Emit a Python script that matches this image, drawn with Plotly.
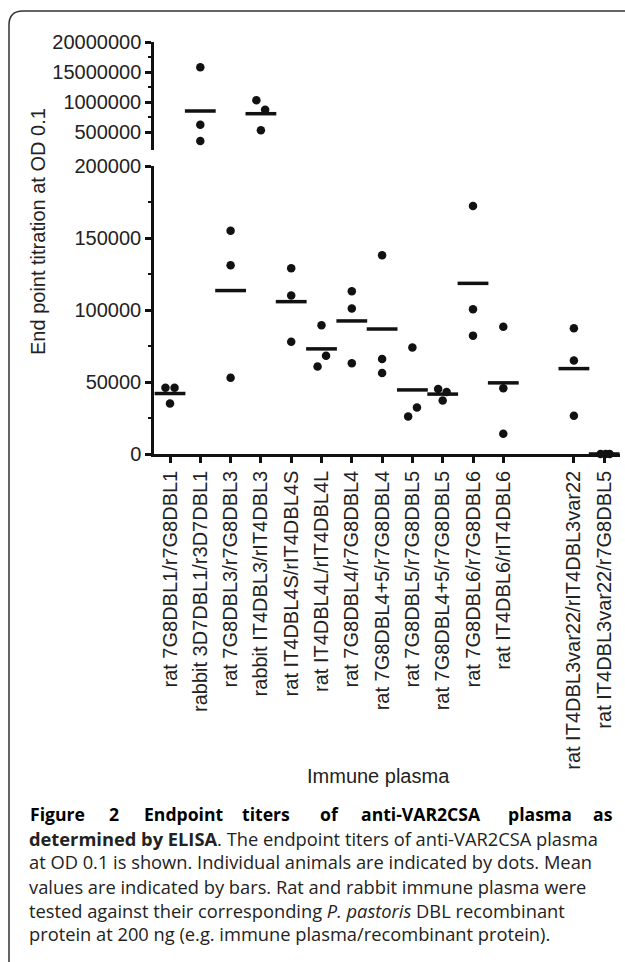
import plotly.graph_objects as go

# ---------------- data ----------------
categories = [
    "rat 7G8DBL1/r7G8DBL1",
    "rabbit 3D7DBL1/r3D7DBL1",
    "rat 7G8DBL3/r7G8DBL3",
    "rabbit IT4DBL3/rIT4DBL3",
    "rat IT4DBL4S/rIT4DBL4S",
    "rat IT4DBL4L/rIT4DBL4L",
    "rat 7G8DBL4/r7G8DBL4",
    "rat 7G8DBL4+5/r7G8DBL4",
    "rat 7G8DBL5/r7G8DBL5",
    "rat 7G8DBL4+5/r7G8DBL5",
    "rat 7G8DBL6/r7G8DBL6",
    "rat IT4DBL6/rIT4DBL6",
    "rat IT4DBL3var22/rIT4DBL3var22",
    "rat IT4DBL3var22/r7G8DBL5",
]
animal_values = [
    [46000, 46000, 35000],
    [1580000, 620000, 350000],
    [155000, 131000, 53000],
    [1030000, 870000, 530000],
    [129000, 110000, 78000],
    [89400, 68300, 60700],
    [113000, 101000, 63000],
    [138000, 66000, 56300],
    [74000, 32300, 26000],
    [45200, 43000, 37200],
    [172300, 100500, 82200],
    [88400, 45700, 14000],
    [87300, 64900, 26500],
    [0, 0, 0],
]
mean_values = [42000, 850000, 113500, 805000, 105800, 73000, 92400,
               86800, 44500, 41600, 118500, 49400, 59300, 0]
# horizontal spread of overlapping dots (category units)
jitter = [
    [-0.15, 0.15, 0], [0, 0, 0], [0, 0, 0], [-0.15, 0.14, 0],
    [0, 0, 0], [0, 0.15, -0.13], [0, 0, 0], [0, 0, 0],
    [0, 0.15, -0.14], [-0.15, 0.13, 0], [0, 0, 0], [0, 0, 0],
    [0, 0, 0], [-0.12, 0.05, 0.18],
]
lower_ticks = [0, 50000, 100000, 150000, 200000]
lower_minor = [25000, 75000, 125000, 175000]
upper_ticks = [500000, 1000000, 1500000, 2000000]
upper_ticktext = ["500000", "1000000", "15000000", "20000000"]
upper_minor = [750000, 1250000, 1750000]
BREAK = 200000
GROUP_GAP = 1.33  # extra space before last group

# ---------------- layout helpers ----------------
W, H = 625, 962
def px(x):
    return x / W
def py(y):
    return 1 - y / H

xpos = [i if i < 12 else i + GROUP_GAP for i in range(len(categories))]

BLACK = "#111111"
TXT = "#222222"

fig = go.Figure()

lo_x, lo_y, hi_x, hi_y = [], [], [], []
for i, vals in enumerate(animal_values):
    for v, j in zip(vals, jitter[i]):
        if v > BREAK:
            hi_x.append(xpos[i] + j); hi_y.append(v)
        else:
            lo_x.append(xpos[i] + j); lo_y.append(v)

fig.add_trace(go.Scatter(x=lo_x, y=lo_y, mode="markers", yaxis="y",
                         marker=dict(size=8.5, color=BLACK), cliponaxis=False,
                         showlegend=False, hoverinfo="skip"))
fig.add_trace(go.Scatter(x=hi_x, y=hi_y, mode="markers", yaxis="y2",
                         marker=dict(size=8.5, color=BLACK), cliponaxis=False,
                         showlegend=False, hoverinfo="skip"))

mlo_x = [xpos[i] for i, m in enumerate(mean_values) if m <= BREAK]
mlo_y = [m for m in mean_values if m <= BREAK]
mhi_x = [xpos[i] for i, m in enumerate(mean_values) if m > BREAK]
mhi_y = [m for m in mean_values if m > BREAK]
bar_marker = dict(symbol="line-ew", size=22, line=dict(width=3.5, color=BLACK))
fig.add_trace(go.Scatter(x=mlo_x, y=mlo_y, mode="markers", yaxis="y",
                         marker=bar_marker, cliponaxis=False,
                         showlegend=False, hoverinfo="skip"))
fig.add_trace(go.Scatter(x=mhi_x, y=mhi_y, mode="markers", yaxis="y2",
                         marker=bar_marker, cliponaxis=False,
                         showlegend=False, hoverinfo="skip"))

# axes geometry (pixels)
x_left, x_right = 154, 620
tick0_px, step_px = 170, 30.3
y0_px, y200k_px = 454, 166
u_bot_px, u_top_px = 150, 42

axis_font = dict(family="Liberation Sans, Arial, sans-serif", size=20, color=TXT)

fig.update_layout(
    width=W, height=H, autosize=False,
    margin=dict(l=0, r=0, t=0, b=0),
    paper_bgcolor="white", plot_bgcolor="white",
    xaxis=dict(
        domain=[px(x_left), px(x_right)],
        range=[(x_left - tick0_px) / step_px, (x_right - tick0_px) / step_px],
        tickmode="array", tickvals=xpos, ticktext=categories,
        tickangle=-90, tickfont=axis_font,
        showline=True, linewidth=2.5, linecolor=BLACK,
        ticks="outside", ticklen=6, tickwidth=2.5, tickcolor=BLACK,
        showgrid=False, zeroline=False, anchor="y", automargin=False,
        fixedrange=True,
    ),
    yaxis=dict(
        domain=[py(y0_px), py(y200k_px)],
        range=[0, 200000],
        tickmode="array", tickvals=lower_ticks,
        ticktext=[str(t) for t in lower_ticks], tickfont=axis_font,
        showline=True, linewidth=2.5, linecolor=BLACK,
        ticks="outside", ticklen=6, tickwidth=2.5, tickcolor=BLACK,
        minor=dict(tickvals=lower_minor, ticks="outside", ticklen=3,
                   tickwidth=2, tickcolor=BLACK, showgrid=False),
        showgrid=False, zeroline=False, anchor="x", automargin=False,
        fixedrange=True,
    ),
    yaxis2=dict(
        domain=[py(u_bot_px), py(u_top_px)],
        range=[BREAK, 2000000],
        tickmode="array", tickvals=upper_ticks, ticktext=upper_ticktext,
        tickfont=axis_font,
        showline=True, linewidth=2.5, linecolor=BLACK,
        ticks="outside", ticklen=6, tickwidth=2.5, tickcolor=BLACK,
        minor=dict(tickvals=upper_minor, ticks="outside", ticklen=3,
                   tickwidth=2, tickcolor=BLACK, showgrid=False),
        showgrid=False, zeroline=False, anchor="x", automargin=False,
        fixedrange=True,
    ),
)

annotations = []
# axis titles
annotations.append(dict(text="End point titration at OD 0.1", textangle=-90,
                        x=px(38), y=py(232), xref="paper", yref="paper",
                        showarrow=False, font=axis_font,
                        xanchor="center", yanchor="middle"))
annotations.append(dict(text="Immune plasma", x=px(378), y=py(776),
                        xref="paper", yref="paper", showarrow=False,
                        font=axis_font, xanchor="center", yanchor="middle"))

# caption
CAP_SIZE = 18.3
cap_font = dict(family="Open Sans, Lato, sans-serif", size=CAP_SIZE, color=TXT)
cap_bold = dict(family="Open Sans, Lato, sans-serif", size=17.6, color="#000000")
line1_words = ["Figure", "2", "Endpoint", "titers", "of", "anti-VAR2CSA", "plasma", "as"]
line1_center = [58, 114, 184, 266, 329, 421, 540, 603]
for w, xw in zip(line1_words, line1_center):
    annotations.append(dict(text="<b>" + w + "</b>", x=px(xw), y=py(814),
                            xref="paper", yref="paper", showarrow=False,
                            font=cap_bold, xanchor="center", yanchor="middle"))
cap_lines = [
    "<b>determined by ELISA</b>. The endpoint titers of anti-VAR2CSA plasma",
    "at OD 0.1 is shown. Individual animals are indicated by dots. Mean",
    "values are indicated by bars. Rat and rabbit immune plasma were",
    "tested against their corresponding <i>P. pastoris</i> DBL recombinant",
    "protein at 200 ng (e.g. immune plasma/recombinant protein).",
]
cap_y = [838, 861, 886, 910, 933]
for t, yy in zip(cap_lines, cap_y):
    annotations.append(dict(text=t, x=px(27), y=py(yy), xref="paper",
                            yref="paper", showarrow=False, font=cap_font,
                            xanchor="left", yanchor="middle"))
fig.update_layout(annotations=annotations)

# rounded frame (extends beyond right and bottom)
r = 14
lx, ty = 9, 11
path = (f"M {px(lx)},{py(H + 20)} L {px(lx)},{py(ty + r)} "
        f"Q {px(lx)},{py(ty)} {px(lx + r)},{py(ty)} L {px(W + 20)},{py(ty)}")
fig.add_shape(type="path", path=path, xref="paper", yref="paper",
              line=dict(color="#333333", width=1.5), layer="above")

fig.write_html(
    "out.html",
    config={"displayModeBar": False},
    post_script="document.body.style.margin='0';document.body.style.overflow='hidden';",
)
